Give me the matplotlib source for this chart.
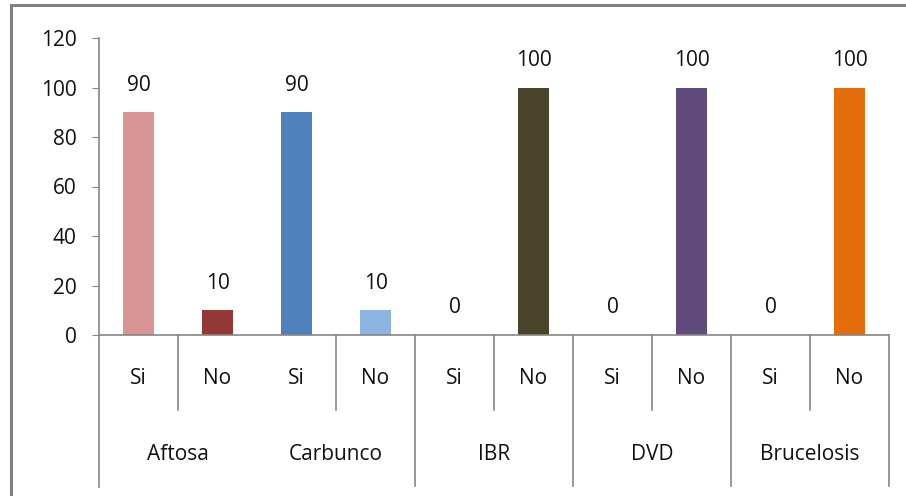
import matplotlib
matplotlib.use("Agg")
import matplotlib.pyplot as plt
from matplotlib.patches import Rectangle
from matplotlib.transforms import blended_transform_factory

diseases = ["Aftosa", "Carbunco", "IBR", "DVD", "Brucelosis"]
answers = ["Si", "No"]
si_values = [90, 90, 0, 0, 0]
no_values = [10, 10, 100, 100, 100]
si_colors = ["#D99594", "#4F81BD", "#4A452A", "#604A7B", "#E46C0A"]
no_colors = ["#953735", "#8DB3E2", "#4A452A", "#604A7B", "#E46C0A"]
yticks = [0, 20, 40, 60, 80, 100, 120]

plt.rcParams['font.family'] = ['Open Sans', 'DejaVu Sans']
FS = 15
W, H = 906, 496
fig = plt.figure(figsize=(W / 100, H / 100), dpi=100)
x0, x1, y0, y120 = 99, 889, 335, 38
ax = fig.add_axes([x0 / W, 1 - y0 / H, (x1 - x0) / W, (y0 - y120) / H])

values, colors, labels = [], [], []
for i, d in enumerate(diseases):
    values += [si_values[i], no_values[i]]
    colors += [si_colors[i], no_colors[i]]
    labels += answers
xs = list(range(len(values)))
ax.bar(xs, values, width=0.39, color=colors)
for x, v in zip(xs, values):
    ax.annotate(str(v), (x, v), xytext=(0, 19.5), textcoords="offset points",
                ha="center", va="center", fontsize=FS, color="#111111")

ax.set_xlim(-0.5, len(values) - 0.5)
ax.set_ylim(0, 120)
ax.set_yticks(yticks)
ax.tick_params(axis="y", length=5, color="#868686", pad=11, labelsize=FS, labelcolor="#111111")
ax.set_xticks([])
for s in ["top", "right"]:
    ax.spines[s].set_visible(False)
for s in ["left", "bottom"]:
    ax.spines[s].set_color("#868686")
    ax.spines[s].set_linewidth(1.2)

tr = blended_transform_factory(ax.transData, fig.transFigure)
def fy(py):
    return 1 - py / H

# category labels
for x, lab in zip(xs, labels):
    ax.text(x, fy(379), lab, transform=tr, ha="center", va="center", fontsize=FS, color="#111111")
for i, d in enumerate(diseases):
    ax.text(2 * i + 0.5, fy(454), d, transform=tr, ha="center", va="center", fontsize=FS, color="#111111")

# separator lines
short_lines = [0.5, 2.5, 4.5, 6.5, 8.5]
long_lines = [3.5, 5.5, 7.5, 9.5]
for x in short_lines:
    ax.plot([x, x], [fy(335), fy(410)], transform=tr, color="#868686", lw=1.2, clip_on=False)
for x in long_lines:
    ax.plot([x, x], [fy(335), fy(486)], transform=tr, color="#868686", lw=1.2, clip_on=False)
ax.plot([-0.5, -0.5], [fy(335), fy(487)], transform=tr, color="#868686", lw=1.2, clip_on=False)

# outer border
fig.patches.append(Rectangle((10.5 / W, -0.1), 1.0, 1.1 - 5.5 / H, transform=fig.transFigure,
                             fill=False, edgecolor="#808080", lw=2.2))

fig.savefig("out.png", dpi=100)
